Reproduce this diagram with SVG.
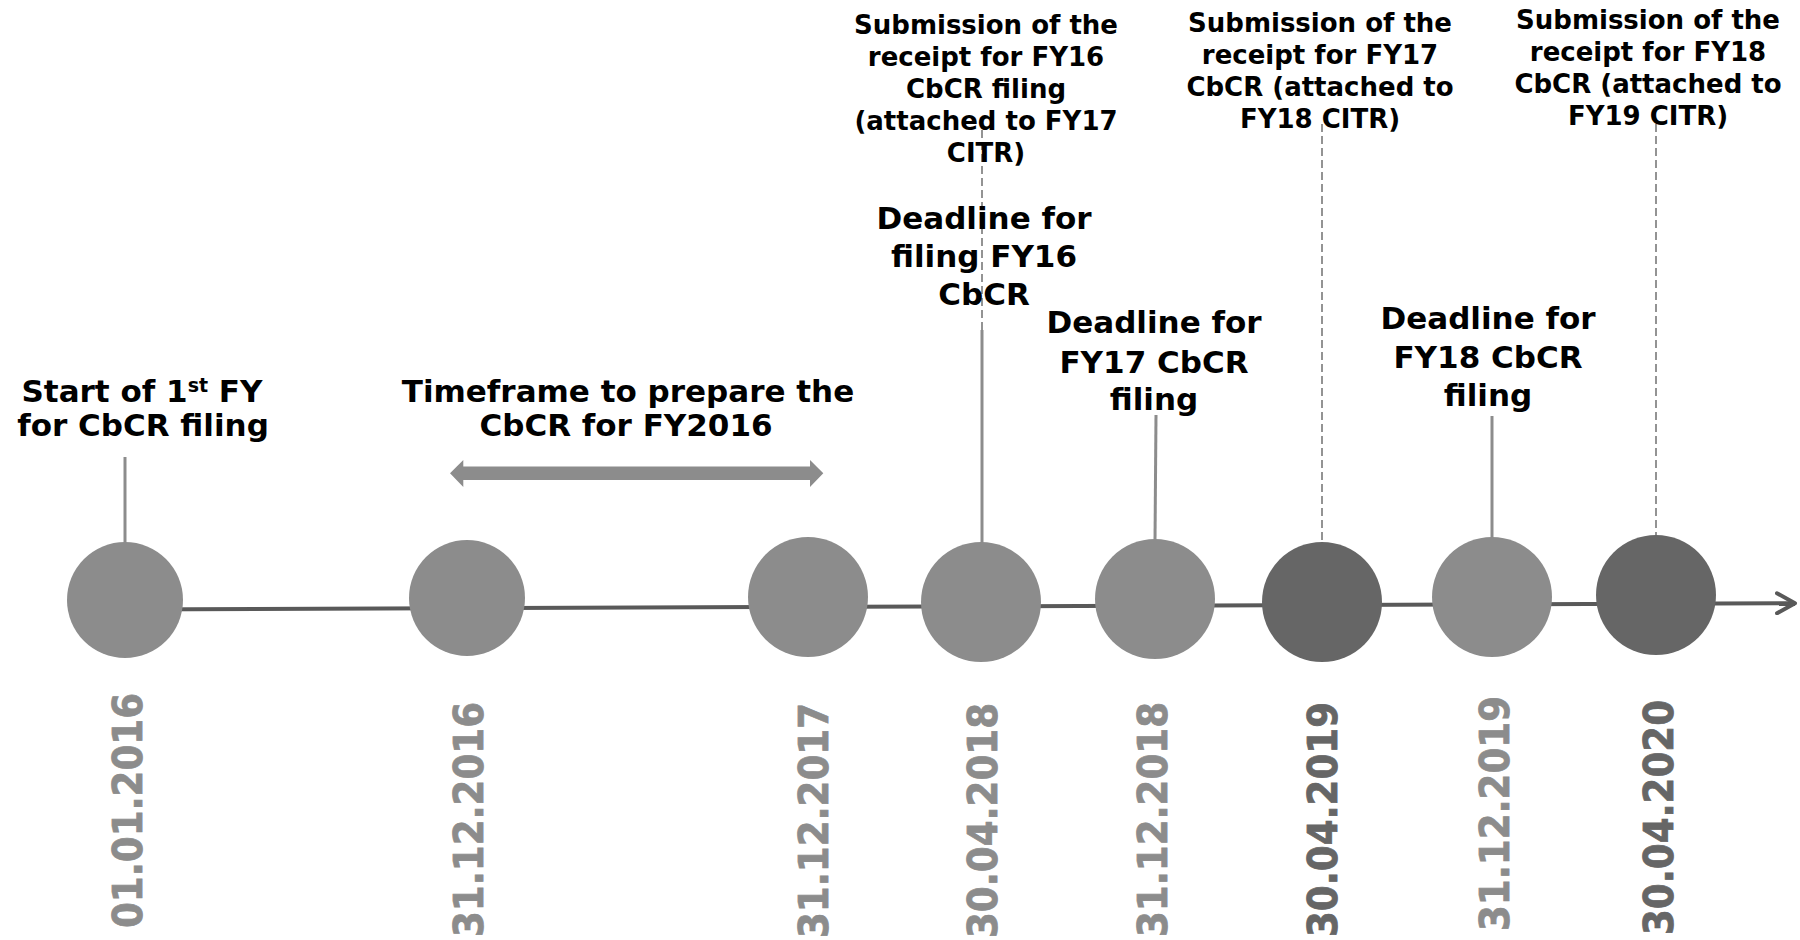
<svg xmlns="http://www.w3.org/2000/svg" width="1800" height="940" viewBox="0 0 1800 940">
<style>
.lbl{font-family:"DejaVu Sans","Verdana",sans-serif;font-weight:bold;fill:#000;text-anchor:middle}
.big{font-size:31px}
.small{font-size:26px}
.date{font-family:"DejaVu Sans","Verdana",sans-serif;font-weight:bold;font-size:40px;stroke-width:0.8}
.dl{fill:#8c8c8c;stroke:#8c8c8c}
.dd{fill:#666666;stroke:#666666}
.cl{fill:#8c8c8c}
.cd{fill:#666666}
.stick{stroke:#8c8c8c;stroke-width:3;fill:none}
.dash{stroke:#707070;stroke-width:1.5;stroke-dasharray:8 4;fill:none}
.axis{stroke:#595959;stroke-width:4;fill:none}
</style>
<defs>
<marker id="open" viewBox="0 0 24 24" refX="20" refY="12" markerWidth="24" markerHeight="24" markerUnits="userSpaceOnUse" orient="auto">
<path d="M2,2 L20,12 L2,22" fill="none" stroke="#595959" stroke-width="4" stroke-linecap="round" stroke-linejoin="round"/>
</marker>
</defs>
<rect width="1800" height="940" fill="#ffffff"/>
<g id="connectors">
<line class="axis" x1="125" y1="609.5" x2="1795" y2="603.2" marker-end="url(#open)"/>
<line class="stick" x1="125" y1="457" x2="125" y2="545"/>
<line class="dash" x1="982" y1="130" x2="982" y2="330"/>
<line class="stick" x1="982" y1="330" x2="982" y2="544"/>
<line class="stick" x1="1156" y1="415" x2="1155" y2="541"/>
<line class="dash" x1="1322" y1="124" x2="1322" y2="543"/>
<line class="stick" x1="1492" y1="416" x2="1492" y2="539"/>
<line class="dash" x1="1656" y1="124" x2="1656" y2="536"/>
<polygon fill="#8c8c8c" points="450,473.3 463.3,460 463.3,466.5 810,466.5 810,460 823.3,473.3 810,487 810,480 463.3,480 463.3,487"/>
</g>
<g id="n1">
<circle class="cl" cx="125" cy="600" r="58"/>
<text class="date dl" transform="translate(127,928) rotate(-90)" x="0" y="14.5" textLength="235" lengthAdjust="spacingAndGlyphs">01.01.2016</text>
<text class="lbl big" x="142" y="402">Start of 1<tspan font-size="19" dy="-10">st</tspan><tspan dy="10"> FY</tspan></text>
<text class="lbl big" x="143" y="436">for CbCR filing</text>
</g>
<g id="n2">
<circle class="cl" cx="467" cy="598" r="58"/>
<text class="date dl" transform="translate(468,937) rotate(-90)" x="0" y="14.5" textLength="235" lengthAdjust="spacingAndGlyphs">31.12.2016</text>
</g>
<g id="timeframe">
<text class="lbl big" x="628" y="402">Timeframe to prepare the</text>
<text class="lbl big" x="626" y="436">CbCR for FY2016</text>
</g>
<g id="n3">
<circle class="cl" cx="808" cy="597" r="60"/>
<text class="date dl" transform="translate(813,938) rotate(-90)" x="0" y="14.5" textLength="235" lengthAdjust="spacingAndGlyphs">31.12.2017</text>
</g>
<g id="n4">
<circle class="cl" cx="981" cy="602" r="60"/>
<text class="date dl" transform="translate(982,938) rotate(-90)" x="0" y="14.5" textLength="235" lengthAdjust="spacingAndGlyphs">30.04.2018</text>
<text class="lbl big" x="984" y="229">Deadline for</text>
<text class="lbl big" x="984" y="267">filing FY16</text>
<text class="lbl big" x="984" y="305">CbCR</text>
<text class="lbl small" x="986" y="34">Submission of the</text>
<text class="lbl small" x="986" y="66">receipt for FY16</text>
<text class="lbl small" x="986" y="98">CbCR filing</text>
<text class="lbl small" x="986" y="130">(attached to FY17</text>
<text class="lbl small" x="986" y="162">CITR)</text>
</g>
<g id="n5">
<circle class="cl" cx="1155" cy="599" r="60"/>
<text class="date dl" transform="translate(1152,937) rotate(-90)" x="0" y="14.5" textLength="235" lengthAdjust="spacingAndGlyphs">31.12.2018</text>
<text class="lbl big" x="1154" y="333">Deadline for</text>
<text class="lbl big" x="1154" y="373">FY17 CbCR</text>
<text class="lbl big" x="1154" y="410">filing</text>
</g>
<g id="n6">
<circle class="cd" cx="1322" cy="602" r="60"/>
<text class="date dd" transform="translate(1322,937) rotate(-90)" x="0" y="14.5" textLength="235" lengthAdjust="spacingAndGlyphs">30.04.2019</text>
<text class="lbl small" x="1320" y="32">Submission of the</text>
<text class="lbl small" x="1320" y="64">receipt for FY17</text>
<text class="lbl small" x="1320" y="96">CbCR (attached to</text>
<text class="lbl small" x="1320" y="128">FY18 CITR)</text>
</g>
<g id="n7">
<circle class="cl" cx="1492" cy="597" r="60"/>
<text class="date dl" transform="translate(1494,931) rotate(-90)" x="0" y="14.5" textLength="235" lengthAdjust="spacingAndGlyphs">31.12.2019</text>
<text class="lbl big" x="1488" y="329">Deadline for</text>
<text class="lbl big" x="1488" y="368">FY18 CbCR</text>
<text class="lbl big" x="1488" y="406">filing</text>
</g>
<g id="n8">
<circle class="cd" cx="1656" cy="595" r="60"/>
<text class="date dd" transform="translate(1658,935) rotate(-90)" x="0" y="14.5" textLength="235" lengthAdjust="spacingAndGlyphs">30.04.2020</text>
<text class="lbl small" x="1648" y="29">Submission of the</text>
<text class="lbl small" x="1648" y="61">receipt for FY18</text>
<text class="lbl small" x="1648" y="93">CbCR (attached to</text>
<text class="lbl small" x="1648" y="125">FY19 CITR)</text>
</g>
</svg>
